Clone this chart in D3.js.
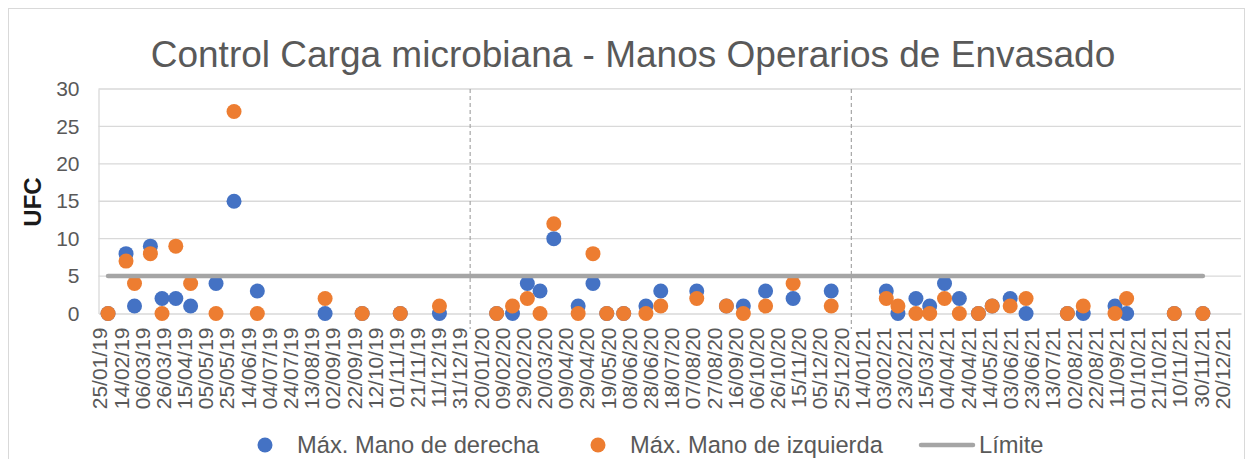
<!DOCTYPE html>
<html>
<head>
<meta charset="utf-8">
<script src="https://cdn.jsdelivr.net/npm/d3@7"></script>
<style>
  body { margin: 0; background: #fff; }
  text { font-family: "Liberation Sans", Arial, sans-serif; }
</style>
</head>
<body>
<div id="chart"></div>
<script>
// Sample dates and the two hand readings (UFC)
const fechas = [
  "2019-02-02", "2019-02-19", "2019-02-27", "2019-03-14", "2019-03-25", "2019-04-07",
  "2019-04-21", "2019-05-15", "2019-06-01", "2019-06-23", "2019-08-26", "2019-09-30",
  "2019-11-05", "2019-12-12", "2020-02-04", "2020-02-19", "2020-03-04", "2020-03-16",
  "2020-03-29", "2020-04-21", "2020-05-05", "2020-05-18", "2020-06-03", "2020-06-24",
  "2020-07-08", "2020-08-11", "2020-09-08", "2020-09-24", "2020-10-15", "2020-11-10",
  "2020-12-16", "2021-02-06", "2021-02-17", "2021-03-06", "2021-03-19", "2021-04-02",
  "2021-04-16", "2021-05-04", "2021-05-17", "2021-06-03", "2021-06-18", "2021-07-27",
  "2021-08-11", "2021-09-10", "2021-09-21", "2021-11-05", "2021-12-02"
];
const manoDerecha = [
  0, 8, 1, 9, 2, 2, 1, 4, 15, 3, 0, 0,
  0, 0, 0, 0, 4, 3, 10, 1, 4, 0, 0, 1,
  3, 3, 1, 1, 3, 2, 3, 3, 0, 2, 1, 4,
  2, 0, 1, 2, 0, 0, 0, 1, 0, 0, 0
];
const manoIzquierda = [
  0, 7, 4, 8, 0, 9, 4, 0, 27, 0, 2, 0,
  0, 1, 0, 1, 2, 0, 12, 0, 8, 0, 0, 0,
  1, 2, 1, 0, 1, 4, 1, 2, 1, 0, 0, 2,
  0, 0, 1, 1, 2, 0, 1, 0, 2, 0, 0
];
const limite = 5;

// Year separators (dashed lines)
const separadores = ["2020-01-10", "2021-01-04"];

const xTickLabels = [
  "25/01/19", "14/02/19", "06/03/19", "26/03/19", "15/04/19", "05/05/19", "25/05/19",
  "14/06/19", "04/07/19", "24/07/19", "13/08/19", "02/09/19", "22/09/19", "12/10/19",
  "01/11/19", "21/11/19", "11/12/19", "31/12/19", "20/01/20", "09/02/20", "29/02/20",
  "20/03/20", "09/04/20", "29/04/20", "19/05/20", "08/06/20", "28/06/20", "18/07/20",
  "07/08/20", "27/08/20", "16/09/20", "06/10/20", "26/10/20", "15/11/20", "05/12/20",
  "25/12/20", "14/01/21", "03/02/21", "23/02/21", "15/03/21", "04/04/21", "24/04/21",
  "14/05/21", "03/06/21", "23/06/21", "13/07/21", "02/08/21", "22/08/21", "11/09/21",
  "01/10/21", "21/10/21", "10/11/21", "30/11/21", "20/12/21"
];
const yTicks = [0, 5, 10, 15, 20, 25, 30];

const titulo = "Control Carga microbiana - Manos Operarios de Envasado";
const yTitulo = "UFC";
const series = [
  { name: "Máx. Mano de derecha", color: "#4472C4", type: "dot" },
  { name: "Máx. Mano de izquierda", color: "#ED7D31", type: "dot" },
  { name: "Límite", color: "#A5A5A5", type: "line" }
];

const W = 1246, H = 459;
const parse = d3.utcParse("%Y-%m-%d");
const parseTick = d3.utcParse("%d/%m/%y");

const data = fechas.map((f, i) => ({
  date: parse(f),
  der: manoDerecha[i],
  izq: manoIzquierda[i]
}));

const svg = d3.select("#chart")
  .append("svg")
  .attr("width", W)
  .attr("height", H);

// Chart frame
svg.append("rect")
  .attr("x", 8.5).attr("y", 8.5)
  .attr("width", 1236).attr("height", 470)
  .attr("fill", "#fff")
  .attr("stroke", "#d9d9d9");

const x = d3.scaleUtc()
  .domain([parse("2019-01-24"), parse("2022-01-07")])
  .range([98.5, 1241]);
const y = d3.scaleLinear()
  .domain([0, 30])
  .range([313.5, 89]);

// Title
svg.append("text")
  .attr("x", 633).attr("y", 67)
  .attr("text-anchor", "middle")
  .attr("font-size", 37)
  .attr("fill", "#595959")
  .text(titulo);

// Grid
svg.append("g")
  .selectAll("line")
  .data(yTicks.filter(d => d > 0))
  .join("line")
  .attr("x1", x.range()[0]).attr("x2", x.range()[1])
  .attr("y1", d => y(d)).attr("y2", d => y(d))
  .attr("stroke", "#d9d9d9")
  .attr("stroke-width", 1.3);

// Y axis
const yAxis = svg.append("g")
  .attr("transform", `translate(${x.range()[0]},0)`)
  .call(d3.axisLeft(y).tickValues(yTicks).tickSize(0).tickPadding(19));
yAxis.select(".domain").attr("stroke", "#d9d9d9").attr("stroke-width", 1.3);
yAxis.selectAll("text")
  .attr("font-size", 21)
  .attr("fill", "#595959")
  .attr("font-family", "Liberation Sans, Arial, sans-serif");

svg.append("text")
  .attr("transform", `translate(41,202) rotate(-90)`)
  .attr("text-anchor", "middle")
  .attr("font-size", 24)
  .attr("font-weight", "bold")
  .attr("fill", "#1a1a1a")
  .text(yTitulo);

// X axis
const xAxis = svg.append("g")
  .attr("transform", `translate(0,${y(0)})`)
  .call(d3.axisBottom(x)
    .tickValues(xTickLabels.map(parseTick))
    .tickSize(0)
    .tickFormat(d3.utcFormat("%d/%m/%y")));
xAxis.select(".domain").attr("stroke", "#d9d9d9").attr("stroke-width", 1.3);
xAxis.selectAll("text")
  .attr("font-size", 21)
  .attr("fill", "#595959")
  .attr("font-family", "Liberation Sans, Arial, sans-serif")
  .attr("text-anchor", "end")
  .attr("transform", "translate(0,14) rotate(-90)")
  .attr("x", 0).attr("y", 0)
  .attr("dy", "0.35em");

// Dashed separators
svg.append("g")
  .selectAll("line")
  .data(separadores.map(parse))
  .join("line")
  .attr("x1", d => x(d)).attr("x2", d => x(d))
  .attr("y1", y(30)).attr("y2", 329)
  .attr("stroke", "#a6a6a6")
  .attr("stroke-width", 1.2)
  .attr("stroke-dasharray", "4,3");

// Points
const r = 7.5;
svg.append("g")
  .selectAll("circle")
  .data(data)
  .join("circle")
  .attr("cx", d => x(d.date))
  .attr("cy", d => y(d.der))
  .attr("r", r)
  .attr("fill", series[0].color);

svg.append("g")
  .selectAll("circle")
  .data(data)
  .join("circle")
  .attr("cx", d => x(d.date))
  .attr("cy", d => y(d.izq))
  .attr("r", r)
  .attr("fill", series[1].color);

// Limit line
const line = d3.line()
  .x(d => x(d.date))
  .y(() => y(limite));
svg.append("path")
  .datum(data)
  .attr("d", line)
  .attr("fill", "none")
  .attr("stroke", series[2].color)
  .attr("stroke-width", 4.5)
  .attr("stroke-linecap", "round");

// Legend
const legendX = [265, 598, 921];
const legend = svg.append("g");
series.forEach((s, i) => {
  const g = legend.append("g").attr("transform", `translate(${legendX[i]},445)`);
  if (s.type === "dot") {
    g.append("circle").attr("r", r).attr("fill", s.color);
    g.append("text")
      .attr("x", 32).attr("dy", "0.35em")
      .attr("font-size", 23.7)
      .attr("fill", "#595959")
      .text(s.name);
  } else {
    g.append("line")
      .attr("x1", 0).attr("x2", 52)
      .attr("stroke", s.color)
      .attr("stroke-width", 4.5)
      .attr("stroke-linecap", "round");
    g.append("text")
      .attr("x", 58).attr("dy", "0.35em")
      .attr("font-size", 23.7)
      .attr("fill", "#595959")
      .text(s.name);
  }
});
</script>
</body>
</html>
